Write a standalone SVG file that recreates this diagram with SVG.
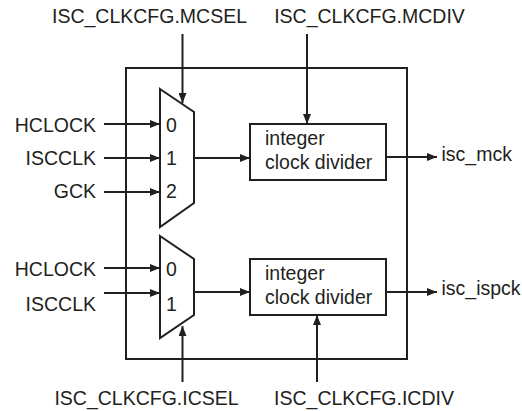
<svg xmlns="http://www.w3.org/2000/svg" width="522" height="411" viewBox="0 0 522 411">
<defs>
<marker id="ah" viewBox="0 0 10 8" refX="10" refY="4" markerWidth="10" markerHeight="8" markerUnits="userSpaceOnUse" orient="auto">
<path d="M0,0 L10,4 L0,8 Z" fill="#231f20"/>
</marker>
<style>
text{font-family:"Liberation Sans",Arial,sans-serif;font-size:19.5px;fill:#231f20}
.s{fill:none;stroke:#231f20;stroke-width:2}
.b{fill:#fff;stroke:#231f20;stroke-width:2}
.c{fill:none;stroke:#231f20;stroke-width:2;marker-end:url(#ah)}
.m{text-anchor:middle}
</style>
</defs>
<rect id="outer" class="s" x="126" y="68" width="281" height="291"/>
<g id="connectors">
<line class="c" x1="104" y1="124" x2="160" y2="124"/>
<line class="c" x1="104" y1="158" x2="160" y2="158"/>
<line class="c" x1="104" y1="192" x2="160" y2="192"/>
<line class="c" x1="194" y1="158" x2="250" y2="158"/>
<line class="c" x1="386" y1="157" x2="437" y2="157"/>
<line class="c" x1="182.5" y1="34" x2="182.5" y2="103"/>
<line class="c" x1="307" y1="34" x2="307" y2="124"/>
<line class="c" x1="104" y1="268" x2="160" y2="268"/>
<line class="c" x1="104" y1="293" x2="160" y2="293"/>
<line class="c" x1="194" y1="292" x2="250" y2="292"/>
<line class="c" x1="386" y1="292" x2="437" y2="292"/>
<line class="c" x1="182.5" y1="382" x2="182.5" y2="326"/>
<line class="c" x1="317" y1="382" x2="317" y2="315"/>
</g>
<g id="mux1">
<path class="b" d="M160,89 L194,112 L194,203 L160,227 Z"/>
<text x="166" y="132">0</text>
<text x="166" y="165">1</text>
<text x="166" y="198">2</text>
</g>
<g id="mux2">
<path class="b" d="M160,236 L194,259 L194,315 L160,338 Z"/>
<text x="166" y="276">0</text>
<text x="166" y="311">1</text>
</g>
<g id="div1">
<rect class="b" x="250" y="124" width="136" height="56"/>
<text x="265" y="145">integer</text>
<text x="265" y="169">clock divider</text>
</g>
<g id="div2">
<rect class="b" x="250" y="259" width="136" height="56"/>
<text x="265" y="280">integer</text>
<text x="265" y="304">clock divider</text>
</g>
<g id="labels">
<text class="m" x="149.5" y="23">ISC_CLKCFG.MCSEL</text>
<text class="m" x="369.5" y="23">ISC_CLKCFG.MCDIV</text>
<text x="96" y="132" text-anchor="end">HCLOCK</text>
<text x="96" y="165" text-anchor="end">ISCCLK</text>
<text x="96" y="198" text-anchor="end">GCK</text>
<text x="96" y="276" text-anchor="end">HCLOCK</text>
<text x="96" y="311" text-anchor="end">ISCCLK</text>
<text x="441.5" y="161">isc_mck</text>
<text x="441.5" y="295">isc_ispck</text>
<text class="m" x="146.5" y="405">ISC_CLKCFG.ICSEL</text>
<text class="m" x="364" y="405">ISC_CLKCFG.ICDIV</text>
</g>
</svg>
